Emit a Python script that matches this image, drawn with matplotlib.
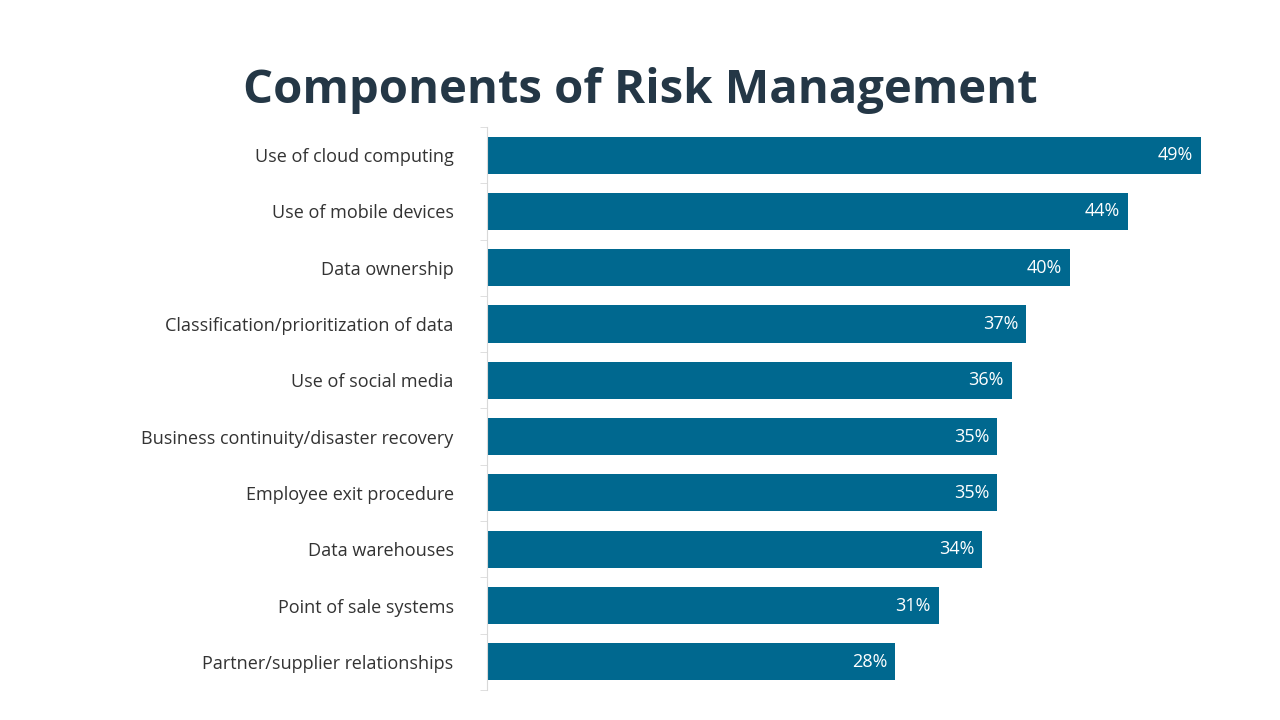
import matplotlib
matplotlib.use("Agg")
import matplotlib.pyplot as plt
import numpy as np

categories = ["Use of cloud computing", "Use of mobile devices", "Data ownership",
              "Classification/prioritization of data", "Use of social media",
              "Business continuity/disaster recovery", "Employee exit procedure",
              "Data warehouses", "Point of sale systems", "Partner/supplier relationships"]
values = [49, 44, 40, 37, 36, 35, 35, 34, 31, 28]

plt.rcParams["font.family"] = "Open Sans"
fig = plt.figure(figsize=(12.8, 7.2), dpi=100)
ax = fig.add_axes([0.3805, 0.0417, 0.5578, 0.782])
y = np.arange(len(categories))
ax.barh(y, values, height=0.66, color="#00688F")
for yi, v in zip(y, values):
    ax.text(v - 0.55, yi, f"{v}%", ha="right", va="center", color="white", fontsize=13)
ax.set_yticks(y)
ax.set_yticklabels(categories, fontsize=13, color="#333333")
ax.set_ylim(len(categories) - 0.5, -0.5)
ax.set_xlim(0, 49)
ax.set_yticks(np.arange(-0.5, len(categories), 1), minor=True)
ax.tick_params(axis="y", which="major", length=0, pad=24)
ax.tick_params(axis="y", which="minor", length=5, color="#D9D9D9")
ax.set_xticks([])
for s in ["top", "right", "bottom"]:
    ax.spines[s].set_visible(False)
ax.spines["left"].set_color("#D9D9D9")
fig.text(0.5, 0.875, "Components of Risk Management", ha="center", va="center",
         fontsize=34, fontweight="bold", color="#243746")
fig.savefig("out.png", dpi=100)
